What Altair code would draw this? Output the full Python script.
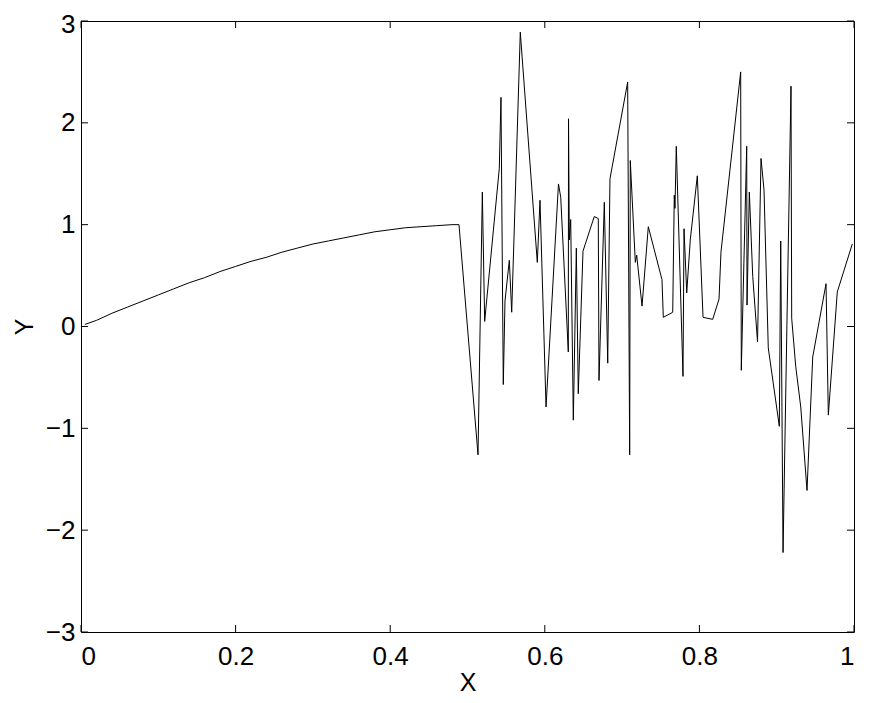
import altair as alt
import pandas as pd

# smooth part
smooth_x = [0.005, 0.02, 0.04, 0.06, 0.08, 0.10, 0.12, 0.14, 0.16, 0.18, 0.20, 0.22,
            0.24, 0.26, 0.28, 0.30, 0.32, 0.34, 0.36, 0.38, 0.40, 0.42, 0.44, 0.46,
            0.48, 0.489]
smooth_y = [0.02, 0.06, 0.13, 0.19, 0.25, 0.31, 0.37, 0.43, 0.48, 0.54, 0.59, 0.64,
            0.68, 0.73, 0.77, 0.81, 0.84, 0.87, 0.90, 0.93, 0.95, 0.97, 0.98, 0.99,
            1.00, 1.00]

# noisy part
noise_x = [0.5136, 0.5192, 0.5222, 0.5411, 0.5433, 0.5463, 0.5485, 0.5541, 0.5572, 0.5683,
           0.5903, 0.5938, 0.6016, 0.6177, 0.6206, 0.6304, 0.6307, 0.6317, 0.6335, 0.6369,
           0.6408, 0.6433, 0.6494, 0.6640, 0.6692, 0.6701, 0.6770, 0.6814, 0.6843, 0.7072,
           0.7098, 0.7106, 0.7171, 0.7189, 0.7258, 0.7339, 0.7516, 0.7533, 0.7655, 0.7675,
           0.7684, 0.7701, 0.7788, 0.7801, 0.7836, 0.7882, 0.7973, 0.8047, 0.8172, 0.8254,
           0.8279, 0.8534, 0.8542, 0.8612, 0.8616, 0.8646, 0.8690, 0.8752, 0.8797, 0.8836,
           0.8891, 0.9034, 0.9052, 0.9082, 0.9185, 0.9194, 0.9246, 0.9311, 0.9392, 0.9466,
           0.9638, 0.9668, 0.9784, 0.9978]
noise_y = [-1.26, 1.32, 0.05, 1.55, 2.25, -0.57, 0.25, 0.65, 0.14, 2.89,
           0.63, 1.24, -0.79, 1.40, 1.27, -0.25, 2.04, 0.85, 1.05, -0.92,
           0.77, -0.66, 0.74, 1.08, 1.06, -0.53, 1.22, -0.36, 1.45, 2.40,
           -1.26, 1.63, 0.63, 0.70, 0.20, 0.98, 0.46, 0.09, 0.14, 1.29,
           1.16, 1.77, -0.49, 0.96, 0.33, 0.85, 1.48, 0.09, 0.07, 0.27,
           0.73, 2.50, -0.43, 1.77, 0.21, 1.32, 0.49, -0.15, 1.65, 1.34,
           -0.21, -0.98, 0.84, -2.22, 2.36, 0.08, -0.39, -0.79, -1.61, -0.30,
           0.42, -0.87, 0.34, 0.81]

x_ticks = [0, 0.2, 0.4, 0.6, 0.8, 1.0]
y_ticks = [-3, -2, -1, 0, 1, 2, 3]

W, H = 773, 611
TL = 7
FONT = "Liberation Sans"
FS = 26
TFS = 25

df = pd.DataFrame({"x": smooth_x + noise_x, "y": smooth_y + noise_y})
df["order"] = range(len(df))
xt = pd.DataFrame({"x": x_ticks})
yt = pd.DataFrame({"y": y_ticks})

xs = alt.Scale(domain=[0, 1], nice=False, zero=False)
ys = alt.Scale(domain=[-3, 3], nice=False, zero=False)
common = dict(format="~g", domain=False, grid=False, ticks=False,
              labelFont=FONT, labelFontSize=FS, labelColor="black",
              titleFont=FONT, titleFontSize=TFS, titleFontWeight="normal", titleColor="black")
xax = alt.Axis(values=x_ticks, title="X", titlePadding=1, labelPadding=11, **common)
yax = alt.Axis(values=y_ticks, title="Y", titlePadding=8, labelPadding=6,
               labelOffset={"condition": {"test": "datum.value == 3", "value": 3}, "value": 0},
               **common)

line = alt.Chart(df).mark_line(color="black", strokeWidth=1).encode(
    x=alt.X("x:Q", scale=xs, axis=xax),
    y=alt.Y("y:Q", scale=ys, axis=yax),
    order="order:Q",
)

bx = alt.Chart(xt).mark_rule(color="black", strokeWidth=1).encode(
    x=alt.X("x:Q", scale=xs, axis=xax), y=alt.value(H), y2=alt.value(H - TL))
tx = alt.Chart(xt).mark_rule(color="black", strokeWidth=1).encode(
    x=alt.X("x:Q", scale=xs, axis=xax), y=alt.value(0), y2=alt.value(TL))
ly = alt.Chart(yt).mark_rule(color="black", strokeWidth=1).encode(
    y=alt.Y("y:Q", scale=ys, axis=yax), x=alt.value(0), x2=alt.value(TL))
ry = alt.Chart(yt).mark_rule(color="black", strokeWidth=1).encode(
    y=alt.Y("y:Q", scale=ys, axis=yax), x=alt.value(W - TL), x2=alt.value(W))

chart = alt.layer(line, bx, tx, ly, ry).properties(
    width=W, height=H,
    autosize=alt.AutoSizeParams(type="none"),
    padding={"left": 73, "top": 13, "right": 8, "bottom": 63},
).configure_view(
    stroke="black", strokeWidth=1
)

chart.save("out.html", embed_options={"renderer": "svg", "actions": False})
